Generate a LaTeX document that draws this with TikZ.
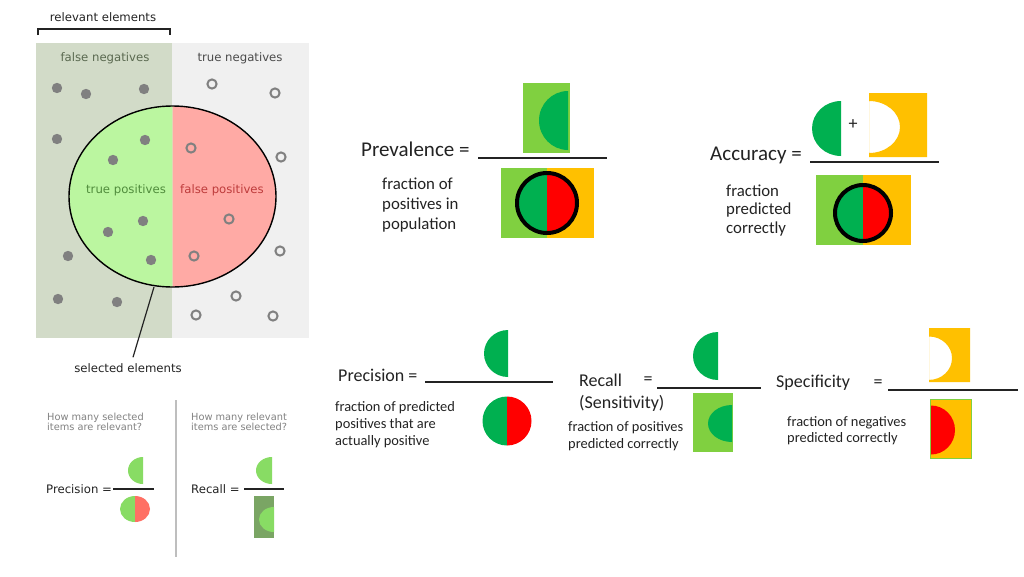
\documentclass[tikz,border=0pt]{standalone}
\usepackage{fontspec}
\setmainfont{Carlito}
\newfontfamily\dejavu{DejaVu Sans}
\usetikzlibrary{calc}

\definecolor{fnbg}{RGB}{210,219,200}
\definecolor{tnbg}{RGB}{240,240,240}
\definecolor{tpfill}{RGB}{187,246,160}
\definecolor{fpfill}{RGB}{255,170,165}
\definecolor{tptext}{RGB}{80,140,60}
\definecolor{fptext}{RGB}{190,60,60}
\definecolor{fntext}{RGB}{90,105,80}
\definecolor{tntext}{RGB}{75,75,75}
\definecolor{dotgray}{RGB}{128,128,128}
\definecolor{inkgray}{RGB}{35,35,35}
\definecolor{qgray}{RGB}{130,130,130}
\definecolor{divgray}{RGB}{190,190,190}
\definecolor{softgreen}{RGB}{136,220,100}
\definecolor{softred}{RGB}{255,112,100}
\definecolor{mossgreen}{RGB}{122,165,100}
\definecolor{lightgreen}{RGB}{128,208,64}
\definecolor{darkgreen}{RGB}{0,176,80}
\definecolor{amber}{RGB}{255,192,0}
\definecolor{brightred}{RGB}{255,0,0}

\tikzset{
  dv/.style={font=\dejavu\fontsize{11.7}{13}\selectfont, inner sep=0pt},
  qtext/.style={font=\dejavu\fontsize{9.8}{10.2}\selectfont, text=qgray, align=left, inner sep=0pt},
  bigeq/.style={font=\fontsize{21}{24}\selectfont, inner sep=0pt, text=inkgray},
  mideq/.style={font=\fontsize{18}{20}\selectfont, inner sep=0pt, text=inkgray},
  note/.style={font=\fontsize{16.8}{20}\selectfont, inner sep=0pt, align=left, text=inkgray},
  smallnote/.style={font=\fontsize{14.4}{17}\selectfont, inner sep=0pt, align=left, text=inkgray},
  fracbar/.style={draw=inkgray, line width=1.3pt},
  dotfull/.style={fill=dotgray},
  dotring/.style={draw=dotgray, line width=2pt},
}

% left half of an ellipse whose flat side is at x=#1, centre height #2
\newcommand{\lefthalf}[5]{%
  \begin{scope}
    \clip (#1-60,#2-60) rectangle (#1,#2+60);
    \fill[#5] (#1,#2) ellipse[x radius=#3pt, y radius=#4pt];
  \end{scope}}
% right half of such an ellipse
\newcommand{\righthalf}[5]{%
  \begin{scope}
    \clip (#1,#2-60) rectangle (#1+60,#2+60);
    \fill[#5] (#1,#2) ellipse[x radius=#3pt, y radius=#4pt];
  \end{scope}}

\begin{document}
\begin{tikzpicture}[x=1pt, y=-1pt]
\useasboundingbox (0,0) rectangle (1024,576);
\fill[white] (0,0) rectangle (1024,576);

% ---------------- set diagram ----------------
\fill[fnbg] (36,43) rectangle (172,338);
\fill[tnbg] (172,43) rectangle (309,338);

\begin{scope}
  \clip (0,0) rectangle (172.5,576);
  \fill[tpfill] (172.5,196.5) ellipse[x radius=103.5pt, y radius=90.5pt];
\end{scope}
\begin{scope}
  \clip (172.5,0) rectangle (400,576);
  \fill[fpfill] (172.5,196.5) ellipse[x radius=103.5pt, y radius=90.5pt];
\end{scope}
\draw[black, line width=1.4pt] (172.5,196.5) ellipse[x radius=103.5pt, y radius=90.5pt];

% relevant items
\foreach \p in {(57,88),(86,94),(144,89),(57,139),(145,140),(113,160),
                (143,221),(108,232),(68,256),(151,260),(58,299),(117,302)}
  \fill[dotfull] \p circle[radius=5.2pt];
% irrelevant items
\foreach \p in {(212,84),(275,93),(191,148),(281,157),(229,219),(194,256),
                (280,251),(236,296),(196,315),(273,316)}
  \draw[dotring] \p circle[radius=4.6pt];

\node[dv, text=inkgray] (relevant) at (103,17) {relevant elements};
\draw[inkgray, line width=1.3pt] (38,35) -- (38,29) -- (170,29) -- (170,35);
\node[dv, text=fntext] (fnlab) at (105,58) {false negatives};
\node[dv, text=tntext] (tnlab) at (240,58) {true negatives};
\node[dv, text=tptext] (tplab) at (126,190) {true positives};
\node[dv, text=fptext] (fplab) at (222,190) {false positives};
\node[dv, text=inkgray] (selected) at (128,368) {selected elements};
\coordinate (selTip) at (154,287);
\draw[inkgray, line width=1.2pt] (selTip) -- ([xshift=5pt, yshift=6pt]selected.north);

% ---------------- precision / recall (set version) ----------------
\draw[divgray, line width=1.6pt] (176,400) -- (176,557);
\node[qtext, anchor=north west] (qprec) at (47,413) {How many selected\\items are relevant?};
\node[qtext, anchor=north west] (qrec) at (191,413) {How many relevant\\items are selected?};

\node[dv, anchor=west, text=inkgray] (precA) at (46,489) {Precision =};
\draw[inkgray, line width=1.2pt] (113,489) -- (154,489);
\lefthalf{143}{470.5}{15}{13.5}{softgreen}
\lefthalf{135}{509}{15}{13}{softgreen}
\righthalf{135}{509}{15}{13}{softred}

\node[dv, anchor=west, text=inkgray] (recA) at (191,489) {Recall =};
\draw[inkgray, line width=1.2pt] (244,489) -- (284,489);
\lefthalf{272}{470.5}{16}{13.5}{softgreen}
\fill[mossgreen] (254,496) rectangle (274,538);
\lefthalf{274}{519.5}{15}{12.5}{softgreen}

% ---------------- prevalence ----------------
\node[bigeq, anchor=west] (prev) at (361,149) {Prevalence =};
\draw[fracbar] (478,158) -- (607,158);
\fill[lightgreen] (523,83) rectangle (570,153);
\lefthalf{568}{120.5}{29}{29.5}{darkgreen}
\fill[lightgreen] (501,168) rectangle (547,238);
\fill[amber] (547,168) rectangle (594,238);
\lefthalf{547}{203}{30}{30}{darkgreen}
\righthalf{547}{203}{30}{30}{brightred}
\draw[black, line width=4pt] (547,203) circle[radius=30pt];
\node[note, anchor=north west] (prevnote) at (382,177.5) {fraction of\\positives in\\population};

% ---------------- accuracy ----------------
\node[bigeq, anchor=west] (acc) at (710,155) {Accuracy =};
\draw[fracbar] (810,162) -- (939,162);
\lefthalf{841}{128.5}{29}{27.5}{darkgreen}
\node[font=\fontsize{18}{20}\selectfont, inner sep=0pt, text=inkgray] (plus) at (853,125) {+};
\fill[amber, even odd rule] (869,93) rectangle (927,157)
  (869,101) arc[start angle=90, end angle=-90, x radius=31pt, y radius=26pt] -- cycle;
\fill[lightgreen] (816,175) rectangle (863,245);
\fill[amber] (863,175) rectangle (911,245);
\lefthalf{863}{213}{28}{28}{darkgreen}
\righthalf{863}{213}{28}{28}{brightred}
\draw[black, line width=4pt] (863,213) circle[radius=28pt];
\node[font=\fontsize{16.8}{18.5}\selectfont, inner sep=0pt, align=left, text=inkgray, anchor=north west]
  (accnote) at (726,184.5) {fraction\\predicted\\correctly};

% ---------------- precision ----------------
\node[mideq, anchor=west] (prec) at (338,375) {Precision =};
\draw[fracbar] (425,382) -- (553,382);
\lefthalf{508}{353.5}{24}{23.5}{darkgreen}
\lefthalf{507}{421}{24.5}{24.5}{darkgreen}
\righthalf{507}{421}{24.5}{24.5}{brightred}
\node[smallnote, anchor=north west] (precnote) at (335,401)
  {fraction of predicted\\positives that are\\actually positive};

% ---------------- recall ----------------
\node[mideq, anchor=west] (rec) at (579,380) {Recall};
\node[mideq] (receq) at (648,381) {=};
\node[mideq, anchor=west] (sens) at (579,403) {(Sensitivity)};
\draw[fracbar] (657,388) -- (761,388);
\lefthalf{718}{356}{25}{24}{darkgreen}
\fill[lightgreen] (693,393) rectangle (733,452);
\lefthalf{732}{423.5}{24}{18.5}{darkgreen}
\node[font=\fontsize{14.4}{16.5}\selectfont, inner sep=0pt, align=left, text=inkgray, anchor=north west]
  (recnote) at (568,421.5) {fraction of positives\\predicted correctly};

% ---------------- specificity ----------------
\node[mideq, anchor=west] (spec) at (776,383) {Specificity};
\node[mideq] (speceq) at (878,384) {=};
\draw[fracbar] (888,390) -- (1018,390);
\fill[amber, even odd rule] (929,328) rectangle (970,382)
  (929,336.5) arc[start angle=90, end angle=-90, x radius=23pt, y radius=21.7pt] -- cycle;
\fill[amber, draw=lightgreen, line width=0.8pt] (930,399) rectangle (971,458);
\righthalf{931}{430}{24}{24.5}{brightred}
\node[font=\fontsize{14.4}{16}\selectfont, inner sep=0pt, align=left, text=inkgray, anchor=north west]
  (specnote) at (787,416) {fraction of negatives\\predicted correctly};
\end{tikzpicture}
\end{document}
